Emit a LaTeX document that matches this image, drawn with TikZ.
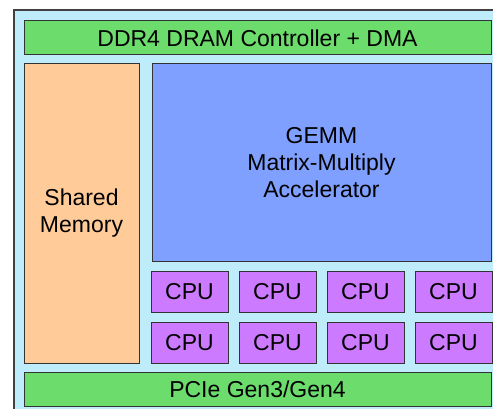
\documentclass[tikz,border=0pt]{standalone}
\usepackage{fontspec}
\setmainfont{Liberation Sans}
\usepackage{tikz}

\definecolor{boardblue}{RGB}{190,236,250}
\definecolor{ddrgreen}{RGB}{108,220,108}
\definecolor{memorange}{RGB}{255,204,153}
\definecolor{gemmblue}{RGB}{128,160,255}
\definecolor{cpupurple}{RGB}{204,122,255}

\begin{document}
\begin{tikzpicture}[x=1pt,y=-1pt]
		\tikzstyle{block}=[rectangle,draw=black!80,line width=1pt,inner sep=0,align=center,
			font=\fontsize{23}{27}\selectfont]
		\tikzstyle{cpu}=[block,fill=cpupurple,minimum width=77pt,minimum height=41pt]
		\useasboundingbox (0,0) rectangle (493,409);

		% board outline, runs past the right and bottom edges
		\draw[draw=black!75,line width=1.2pt,fill=boardblue] (14,10) rectangle (510,425);

		\node[block,fill=ddrgreen,minimum width=467pt,minimum height=34pt] (ddr) at (257.5,38) {DDR4 DRAM Controller + DMA};
		\node[block,fill=memorange,minimum width=115pt,minimum height=299pt] (shmem) at (81.5,213.5) {Shared\\Memory};
		\node[block,fill=gemmblue,minimum width=339pt,minimum height=197pt] (gemm) at (321.5,162.5) {GEMM\\Matrix-Multiply\\Accelerator};

		\foreach \r in {0,1}
			\foreach \c in {0,...,3}
				\node[cpu] (cpu\r\c) at (189.5+88*\c, 292+50.5*\r) {CPU};

		\node[block,fill=ddrgreen,minimum width=467pt,minimum height=34pt] (pcie) at (257.5,389) {PCIe Gen3/Gen4};
	\end{tikzpicture}
\end{document}
